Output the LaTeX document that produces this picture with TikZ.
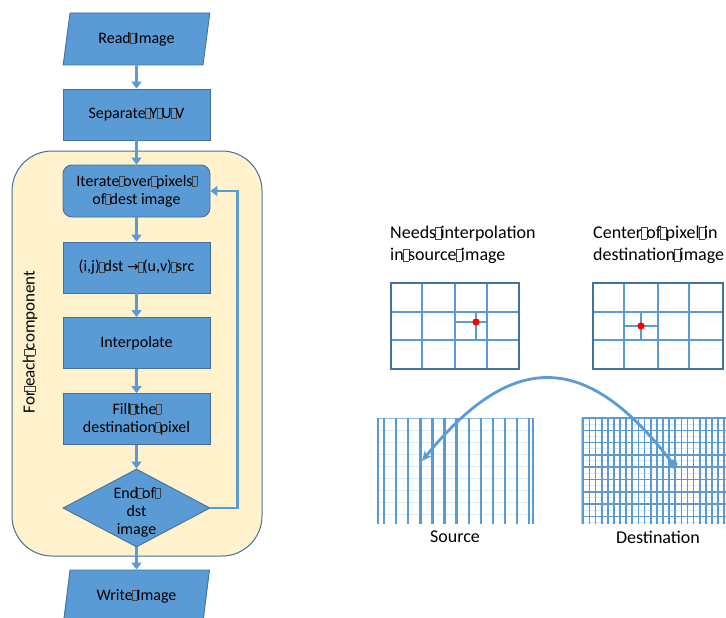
\documentclass[tikz,border=0pt]{standalone}
\usepackage{fontspec}
\setmainfont{Carlito}
\newfontfamily\symbolfont{DejaVu Sans}
\usetikzlibrary{shapes.geometric,arrows.meta}
\definecolor{boxblue}{HTML}{5B9BD5}
\definecolor{boxedge}{HTML}{41719C}
\definecolor{cream}{HTML}{FFF2CC}
\definecolor{faintblue}{HTML}{DDEBF7}
\definecolor{dotred}{HTML}{FF0000}
% placeholder glyph box standing where a space could not be shown
\newcommand\nog{\makebox[0.24em][c]{\color{black!75}\setlength\fboxsep{0pt}\setlength\fboxrule{0.45pt}\fbox{\rule{0pt}{0.62em}\hspace{0.3em}}}}
\tikzset{
  flowfont/.style={font=\fontsize{16}{18}\selectfont},
  proc/.style={rectangle, draw=boxedge, fill=boxblue, line width=0.9pt,
    minimum width=147pt, minimum height=51pt, inner sep=2pt, align=center, flowfont},
  iobox/.style={trapezium, trapezium left angle=77, trapezium right angle=103,
    trapezium stretches, draw=boxedge, fill=boxblue, line width=0.9pt,
    minimum width=147pt, minimum height=52pt, inner sep=2pt, flowfont},
  decision/.style={diamond, draw=boxedge, fill=boxblue, line width=0.9pt,
    minimum width=147pt, minimum height=78pt, inner sep=0pt, aspect=1.9},
  flow/.style={draw=boxblue, line width=2.6pt, -{Triangle[length=7pt,width=10pt]}},
  loopbox/.style={rectangle, draw=boxedge, fill=cream, line width=1pt,
    rounded corners=40pt, minimum width=250pt, minimum height=405pt},
  note/.style={anchor=north west, inner sep=0pt, align=left,
    font=\fontsize{18}{22}\selectfont},
  caption/.style={inner sep=0pt, font=\fontsize{18}{22}\selectfont},
  cellframe/.style={draw=boxedge, line width=1.8pt},
  cellline/.style={draw=boxblue, line width=1.8pt},
  thickcol/.style={draw=boxblue, line width=2.4pt},
  thinrow/.style={draw=faintblue, line width=1pt},
  densecol/.style={draw=boxblue, line width=1.7pt},
  denserow/.style={draw=boxblue, line width=1.6pt},
  mapping/.style={draw=boxblue, line width=2.8pt, -{Stealth[length=10pt,width=9pt]}},
}
\begin{document}
\begin{tikzpicture}[x=1pt,y=-1pt]
\useasboundingbox (0,0) rectangle (726,618);

% ---------- flowchart ----------
\node[loopbox] (loop) at (137,353.5) {};
\node[rotate=90, inner sep=0pt, font=\fontsize{17}{20}\selectfont] (looplabel) at (30,342) {For\nog each\nog component};

\node[iobox] (read) at (136.5,39) {Read\nog Image};
\node[proc] (sep) at (136.5,114.5) {Separate\nog Y\nog U\nog V};
\node[proc, rounded corners=9pt, minimum height=52pt] (iter) at (136.5,191)
  {Iterate\nog over\nog pixels\nog\\of\nog dest image};
\node[proc] (map) at (136.5,267.5) {(i,j)\nog dst {\symbolfont\fontsize{14}{16}\selectfont →}\nog (u,v)\nog src};
\node[proc] (interp) at (136.5,343) {Interpolate};
\node[proc] (fillpx) at (136.5,419) {Fill\nog the\nog\\destination\nog pixel};
\node[decision] (end) at (136.5,508) {};
\node[align=center, inner sep=0pt, flowfont] (endtext) at (136.5,512) {End\nog of\nog\\dst\\image};
\node[iobox] (write) at (136.5,596) {Write\nog Image};

\draw[flow] (read) -- (sep);
\draw[flow] (sep) -- (iter);
\draw[flow] (iter) -- (map);
\draw[flow] (map) -- (interp);
\draw[flow] (interp) -- (fillpx);
\draw[flow] (fillpx) -- (end);
\draw[flow] (end) -- (write);
\draw[flow] (end.east) -- ++(27,0) |- (iter.east);

% ---------- right side: neighbourhood grids ----------
\node[note] (srcnote) at (390,226) {Needs\nog interpolation\\in\nog source\nog image};
\node[note] (dstnote) at (593,226) {Center\nog of\nog pixel\nog in\\destination\nog image};

% source neighbourhood
\foreach \x in {422,455,487} \draw[cellline] (\x,283) -- (\x,369);
\foreach \y in {312,340} \draw[cellline] (391,\y) -- (519,\y);
\draw[cellline] (455,322) -- (487,322);
\draw[cellline] (476,312) -- (476,340);
\draw[cellframe] (391,283) rectangle (519,369);
\fill[dotred] (476,322) circle (3.6);

% destination neighbourhood
\foreach \x in {624,658,689} \draw[cellline] (\x,283) -- (\x,369);
\foreach \y in {312,340} \draw[cellline] (593,\y) -- (723,\y);
\draw[cellline] (624,326) -- (658,326);
\draw[cellline] (641,312) -- (641,340);
\draw[cellframe] (593,283) rectangle (723,369);
\fill[dotred] (641,326) circle (3.6);

% ---------- right side: full images ----------
% source: coarse columns
\foreach \i in {0,...,7} \draw[thinrow] (378,{430+12*\i}) -- (533,{430+12*\i});
\draw[draw=boxblue!70, line width=1pt] (378,418) -- (533,418);
\draw[thickcol] (378,418) -- (378,524);
\draw[thickcol] (533,418) -- (533,524);
\foreach \i in {0,...,12} \draw[thickcol] ({384+12.1*\i},418) -- ++(0,106);

% destination: dense grid
\foreach \i in {0,...,8} \draw[thinrow] (582,{424+12.3*\i}) -- (730,{424+12.3*\i});
\foreach \i in {0,...,8} \draw[denserow] (582,{418+12.3*\i}) -- (730,{418+12.3*\i});
\fill[boxblue!45] (581,418) rectangle (584,524);
\foreach \i in {0,...,24} \draw[densecol] ({583.3+6.13*\i},418) -- ++(0,106);

\node[caption] (srccap) at (455,537) {Source};
\node[caption] (dstcap) at (658,537) {Destination};

% mapping arc from destination pixel back into the source
\coordinate (dstpix) at (673,464);
\coordinate (srcpix) at (422,461);
\fill[boxblue] (dstpix) circle (4.5);
\draw[mapping] (dstpix) .. controls (587,350) and (512,350) .. (srcpix);
\end{tikzpicture}
\end{document}
